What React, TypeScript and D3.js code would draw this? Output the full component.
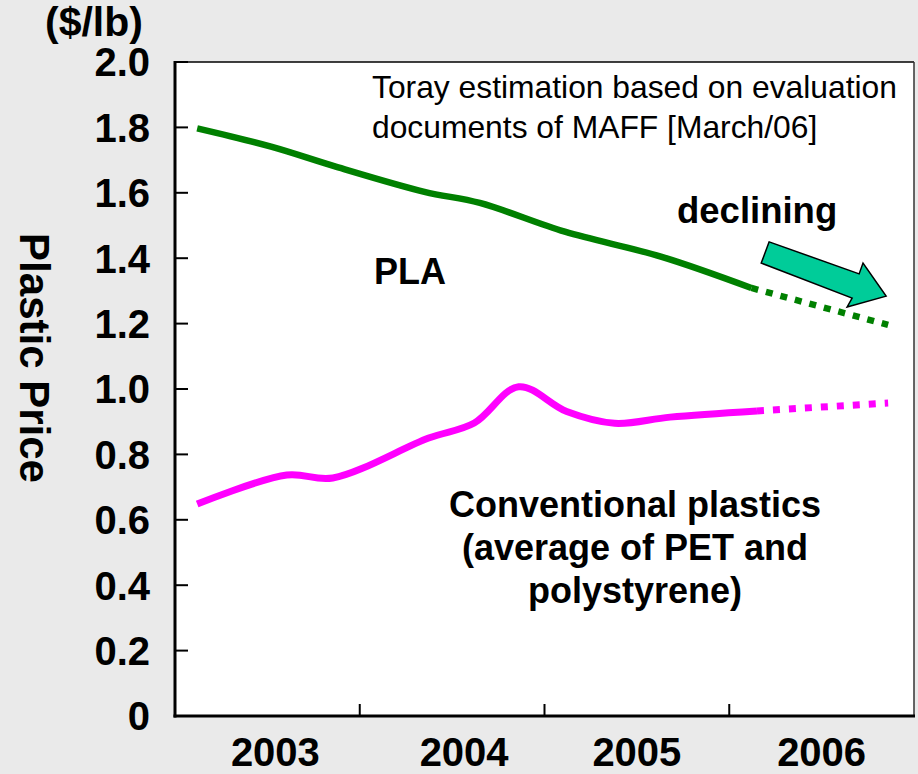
import React from 'react';
import * as d3 from 'd3';

// Category labels and tick values
const years = ['2003', '2004', '2005', '2006'];
const yTickValues = [0, 0.2, 0.4, 0.6, 0.8, 1.0, 1.2, 1.4, 1.6, 1.8, 2.0];
const yTickLabels = ['0', '0.2', '0.4', '0.6', '0.8', '1.0', '1.2', '1.4', '1.6', '1.8', '2.0'];

// PLA price ($/lb), actual and projected (x in fractional years)
const plaX = [2003.12, 2003.52, 2003.87, 2004.35, 2004.65, 2005.11, 2005.63, 2006.12];
const plaY = [1.797, 1.741, 1.68, 1.603, 1.569, 1.481, 1.405, 1.309];
const plaForecastX = [2006.12, 2006.86];
const plaForecastY = [1.309, 1.196];

// Conventional plastics (average of PET and polystyrene)
const convX = [2003.12, 2003.605, 2003.854, 2004.373, 2004.62, 2004.86, 2005.12, 2005.38, 2005.68, 2006.15];
const convY = [0.648, 0.737, 0.728, 0.85, 0.896, 1.007, 0.931, 0.895, 0.914, 0.933];
const convForecastX = [2006.15, 2006.86];
const convForecastY = [0.933, 0.957];

// "declining" arrow outline in data units (year, $/lb)
const arrowX = [2006.216, 2006.173, 2006.665, 2006.638, 2006.849, 2006.724, 2006.703];
const arrowY = [1.45, 1.385, 1.278, 1.251, 1.284, 1.385, 1.352];

const W = 918;
const H = 774;
const left = 175;
const right = 914;
const top = 62;
const bottom = 716;
const FONT = '"Liberation Sans", Arial, Helvetica, sans-serif';

export default function App() {
  const x = d3.scaleLinear().domain([2003, 2007]).range([left, right]);
  const y = d3.scaleLinear().domain([0, 2]).range([bottom, top]);

  const zip = (xs: number[], ys: number[]) => xs.map((v, i) => [v, ys[i]] as [number, number]);

  const smooth = d3
    .line<[number, number]>()
    .x((d) => x(d[0]))
    .y((d) => y(d[1]))
    .curve(d3.curveCatmullRom.alpha(0.5));
  const straight = d3
    .line<[number, number]>()
    .x((d) => x(d[0]))
    .y((d) => y(d[1]));

  const yearBand = d3.scaleBand<string>().domain(years).range([left, right]);
  const xTickPositions = years.slice(1).map((yr) => yearBand(yr) as number);
  // small per-label nudges for the year captions
  const yearNudge = [8, 12, 0, 0];

  const arrowPts = zip(arrowX, arrowY).map((p) => `${x(p[0])},${y(p[1])}`).join(' ');

  return (
    <svg
      width={W}
      height={H}
      style={{ position: 'absolute', left: 0, top: 0, background: '#eaeaea' }}
      fontFamily={FONT}
    >
      <rect x={0} y={0} width={W} height={H} fill="#eaeaea" />
      <rect x={left} y={top} width={right - left} height={bottom - top} fill="#ffffff" />

      {/* frame */}
      <line x1={left} y1={top} x2={right} y2={top} stroke="#000" strokeWidth={1.5} />
      <line x1={right} y1={top} x2={right} y2={bottom} stroke="#333" strokeWidth={1.5} />

      {/* y ticks */}
      {yTickValues.map((v, i) => (
        <g key={`yt${i}`}>
          <line x1={left} x2={left + 13} y1={y(v)} y2={y(v)} stroke="#000" strokeWidth={2} />
          <text
            x={150}
            y={y(v)}
            dy="0.36em"
            textAnchor="end"
            fontSize={40}
            fontWeight="bold"
            fill="#000"
          >
            {yTickLabels[i]}
          </text>
        </g>
      ))}

      {/* x ticks */}
      {xTickPositions.map((px, i) => (
        <line key={`xt${i}`} x1={px} x2={px} y1={bottom} y2={bottom - 12} stroke="#000" strokeWidth={2} />
      ))}
      {years.map((yr, i) => (
        <text
          key={yr}
          x={(yearBand(yr) as number) + yearBand.bandwidth() / 2 + yearNudge[i]}
          y={766}
          textAnchor="middle"
          fontSize={40}
          fontWeight="bold"
          fill="#000"
        >
          {yr}
        </text>
      ))}

      {/* axes */}
      <line x1={left} y1={top - 1} x2={left} y2={bottom + 1.5} stroke="#000" strokeWidth={3} />
      <line x1={left - 1.5} y1={bottom} x2={right + 1} y2={bottom} stroke="#000" strokeWidth={3} />

      {/* unit and axis title */}
      <text x={45} y={36} fontSize={41} fontWeight="bold" fill="#000">
        ($/lb)
      </text>
      <text
        transform={`translate(20,${358}) rotate(90)`}
        textAnchor="middle"
        fontSize={42}
        fontWeight="bold"
        fill="#000"
      >
        Plastic Price
      </text>

      {/* series */}
      <path d={smooth(zip(plaX, plaY)) as string} fill="none" stroke="#008000" strokeWidth={6.5} strokeLinecap="butt" />
      <path
        d={straight(zip(plaForecastX, plaForecastY)) as string}
        fill="none"
        stroke="#008000"
        strokeWidth={6.5}
        strokeDasharray="7 8"
      />
      <path d={smooth(zip(convX, convY)) as string} fill="none" stroke="#ff00ff" strokeWidth={7} strokeLinecap="butt" />
      <path
        d={straight(zip(convForecastX, convForecastY)) as string}
        fill="none"
        stroke="#ff00ff"
        strokeWidth={7}
        strokeDasharray="7 9"
      />

      {/* annotations */}
      <text x={372} y={98} fontSize={31.8} fill="#000">
        Toray estimation based on evaluation
      </text>
      <text x={372} y={138} fontSize={31.8} fill="#000">
        documents of MAFF [March/06]
      </text>
      <text x={677} y={223} fontSize={36.5} fontWeight="bold" fill="#000">
        declining
      </text>
      <polygon points={arrowPts} fill="#00cc99" stroke="#000" strokeWidth={1.5} strokeLinejoin="miter" />
      <text x={374} y={284} fontSize={36} fontWeight="bold" fill="#000">
        PLA
      </text>
      <text x={635} y={517} textAnchor="middle" fontSize={36} fontWeight="bold" fill="#000">
        Conventional plastics
      </text>
      <text x={635} y={560} textAnchor="middle" fontSize={36} fontWeight="bold" fill="#000">
        (average of PET and
      </text>
      <text x={635} y={603} textAnchor="middle" fontSize={36} fontWeight="bold" fill="#000">
        polystyrene)
      </text>
    </svg>
  );
}
